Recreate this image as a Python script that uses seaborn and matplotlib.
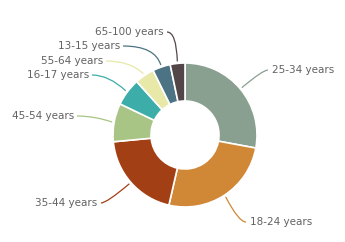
import matplotlib
matplotlib.use("Agg")
import matplotlib.pyplot as plt
import seaborn as sns
import numpy as np
from matplotlib.path import Path
from matplotlib.patches import PathPatch

sns.set_theme(style="white")
plt.rcParams['font.family'] = ['DejaVu Sans']

categories = ["25-34 years", "18-24 years", "35-44 years", "45-54 years",
              "16-17 years", "55-64 years", "13-15 years", "65-100 years"]
values = [27.9, 25.7, 19.9, 8.6, 6.2, 4.4, 4.0, 3.3]
colors = ["#899f90", "#d08836", "#a33f14", "#a9c585",
          "#3cada8", "#e8e8a8", "#4c7383", "#524649"]

# label layout (pixel coords, y down): line end, text anchor, alignment, curve fraction
label_layout = {
    "25-34 years": ((268, 70), (272, 70), "left", 0.8),
    "18-24 years": ((246, 222), (250, 222), "left", 0.64),
    "35-44 years": ((101, 203), (97, 203), "right", 0.8),
    "45-54 years": ((77, 116), (74, 116), "right", 0.5),
    "16-17 years": ((92, 75), (89, 75), "right", 0.5),
    "55-64 years": ((106, 61), (103, 61), "right", 0.35),
    "13-15 years": ((123, 46), (120, 46), "right", 0.15),
    "65-100 years": ((167, 32), (164, 32), "right", 0.0),
}

W, H = 345, 242
fig = plt.figure(figsize=(W / 100, H / 100), dpi=100)
ax = fig.add_axes([0, 0, 1, 1])
cx, cy, R = 185, 135, 72

wedges, _ = ax.pie(values, colors=colors, startangle=90, counterclock=False,
                   center=(cx, H - cy), radius=R,
                   wedgeprops=dict(width=38, edgecolor="white", linewidth=1.2))

total = sum(values)
cum = 0
for cat, val, col in zip(categories, values, colors):
    mid = (cum + val / 2) / total * 2 * np.pi
    cum += val
    sx = cx + (R + 2) * np.sin(mid)
    sy = cy - (R + 2) * np.cos(mid)
    (ex, ey), (tx, ty), ha, frac = label_layout[cat]
    if cat == "65-100 years":
        ctrl = (sx - 1, ey)
    else:
        ctrl = (sx + (ex - sx) * frac, ey)
    verts = [(sx, H - sy), (ctrl[0], H - ctrl[1]), (ex, H - ey)]
    p = Path(verts, [Path.MOVETO, Path.CURVE3, Path.CURVE3])
    ax.add_patch(PathPatch(p, facecolor="none", edgecolor=col, lw=0.9))
    ax.text(tx, H - ty, cat, ha=ha, va="center", fontsize=7.5, color="#626262")

ax.set_xlim(0, W)
ax.set_ylim(0, H)
ax.set_aspect("equal")
ax.axis("off")
fig.savefig("out.png", dpi=100, facecolor="white")
